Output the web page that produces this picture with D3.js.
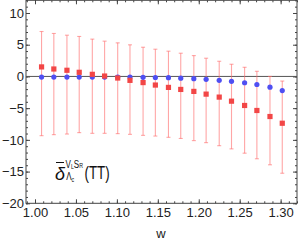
<!DOCTYPE html>
<html>
<head>
<meta charset="utf-8">
<script src="https://cdn.jsdelivr.net/npm/d3@7"></script>
<style>
  body { margin: 0; background: #fff; }
  text { font-family: "Liberation Sans", Arial, sans-serif; }
</style>
</head>
<body>
<div id="chart"></div>
<script>
// w bins (centres)
const wValues = [1.008, 1.023, 1.039, 1.054, 1.070, 1.085, 1.101, 1.116, 1.132, 1.147,
                 1.163, 1.178, 1.194, 1.209, 1.225, 1.240, 1.256, 1.271, 1.287, 1.302];

// red series: central value and error band
const redCentral = [1.50, 1.17, 0.97, 0.65, 0.33, 0.06, -0.25, -0.62, -0.97, -1.36,
                    -1.73, -2.05, -2.36, -2.79, -3.26, -3.90, -4.58, -5.37, -6.32, -7.38];
const redUpper   = [7.08, 6.77, 6.50, 6.30, 5.88, 5.56, 5.29, 4.98, 4.60, 4.29,
                    3.98, 3.66, 3.28, 2.87, 2.39, 1.92, 1.44, 0.81, 0.00, -0.73];
const redLower   = [-9.34, -9.18, -9.08, -8.86, -8.97, -8.97, -9.02, -9.13, -9.29, -9.40,
                    -9.60, -9.78, -10.12, -10.44, -10.92, -11.42, -12.10, -12.98, -13.93, -15.26];

// blue series
const blueCentral = [-0.10, -0.10, -0.10, -0.10, -0.10, -0.10, -0.10, -0.10, -0.14, -0.17,
                     -0.20, -0.27, -0.36, -0.46, -0.62, -0.78, -1.00, -1.27, -1.70, -2.23];

const xTicks = [1.00, 1.05, 1.10, 1.15, 1.20, 1.25, 1.30];
const yTicks = [-20, -15, -10, -5, 0, 5, 10];

const width = 299, height = 243;
const frameColour = "#444";

const svg = d3.select("#chart")
    .append("svg")
    .attr("width", width)
    .attr("height", height);

const x = d3.scaleLinear().domain([0.989, 1.32]).range([26, 297]);
const y = d3.scaleLinear().domain([-20, 12]).range([203.3, 0.3]);

const xMinor = d3.range(99, 133).map(d => d / 100).filter(d => d >= 0.99 && d <= 1.32);
const yMinor = d3.range(-20, 13);

// axes (ticks inward on all four sides)
function styleAxis(g){
    g.select(".domain").remove();
    g.selectAll("line").attr("stroke", frameColour);
    g.selectAll("text").attr("fill", "#222").style("font-size", "13px");
}

svg.append("g")
    .attr("transform", "translate(0," + y.range()[0] + ")")
    .call(d3.axisBottom(x).tickValues(xMinor).tickSizeInner(-2).tickSizeOuter(0).tickFormat(""))
    .call(styleAxis);
svg.append("g")
    .attr("transform", "translate(0," + y.range()[0] + ")")
    .call(d3.axisBottom(x).tickValues(xTicks).tickSizeInner(-4).tickSizeOuter(0).tickPadding(4)
        .tickFormat(d3.format(".2f")))
    .call(styleAxis);

svg.append("g")
    .attr("transform", "translate(0," + y.range()[1] + ")")
    .call(d3.axisTop(x).tickValues(xMinor).tickSizeInner(-2).tickSizeOuter(0).tickFormat(""))
    .call(styleAxis);
svg.append("g")
    .attr("transform", "translate(0," + y.range()[1] + ")")
    .call(d3.axisTop(x).tickValues(xTicks).tickSizeInner(-4).tickSizeOuter(0).tickFormat(""))
    .call(styleAxis);

svg.append("g")
    .attr("transform", "translate(" + x.range()[0] + ",0)")
    .call(d3.axisLeft(y).tickValues(yMinor).tickSizeInner(-2).tickSizeOuter(0).tickFormat(""))
    .call(styleAxis);
svg.append("g")
    .attr("transform", "translate(" + x.range()[0] + ",0)")
    .call(d3.axisLeft(y).tickValues(yTicks).tickSizeInner(-4).tickSizeOuter(0).tickPadding(2))
    .call(styleAxis);

svg.append("g")
    .attr("transform", "translate(" + x.range()[1] + ",0)")
    .call(d3.axisRight(y).tickValues(yMinor).tickSizeInner(-2).tickSizeOuter(0).tickFormat(""))
    .call(styleAxis);
svg.append("g")
    .attr("transform", "translate(" + x.range()[1] + ",0)")
    .call(d3.axisRight(y).tickValues(yTicks).tickSizeInner(-4).tickSizeOuter(0).tickFormat(""))
    .call(styleAxis);

// frame
svg.append("rect")
    .attr("x", x.range()[0])
    .attr("y", y.range()[1])
    .attr("width", x.range()[1] - x.range()[0])
    .attr("height", y.range()[0] - y.range()[1])
    .attr("fill", "none")
    .attr("stroke", frameColour)
    .attr("stroke-width", 1);

// zero line
svg.append("line")
    .attr("x1", x.range()[0]).attr("x2", x.range()[1])
    .attr("y1", y(0)).attr("y2", y(0))
    .attr("stroke", "#555")
    .attr("stroke-width", 1);

const points = wValues.map((w, i) => ({
    w: w, red: redCentral[i], hi: redUpper[i], lo: redLower[i], blue: blueCentral[i]
}));

// error bars
const bars = svg.append("g")
    .attr("stroke", "#ff6a6a")
    .attr("stroke-opacity", 0.6)
    .attr("stroke-width", 1.1);

bars.selectAll(".err")
    .data(points)
    .enter().append("line")
    .attr("class", "err")
    .attr("x1", d => x(d.w)).attr("x2", d => x(d.w))
    .attr("y1", d => y(d.hi)).attr("y2", d => y(d.lo));

bars.selectAll(".capTop")
    .data(points)
    .enter().append("line")
    .attr("class", "capTop")
    .attr("x1", d => x(d.w) - 2).attr("x2", d => x(d.w) + 2)
    .attr("y1", d => y(d.hi)).attr("y2", d => y(d.hi));

bars.selectAll(".capBot")
    .data(points)
    .enter().append("line")
    .attr("class", "capBot")
    .attr("x1", d => x(d.w) - 2).attr("x2", d => x(d.w) + 2)
    .attr("y1", d => y(d.lo)).attr("y2", d => y(d.lo));

// blue circles
svg.append("g")
    .selectAll("circle")
    .data(points)
    .enter().append("circle")
    .attr("cx", d => x(d.w))
    .attr("cy", d => y(d.blue))
    .attr("r", 2.6)
    .attr("fill", "#4f4ff2");

// red squares
svg.append("g")
    .selectAll("rect")
    .data(points)
    .enter().append("rect")
    .attr("x", d => x(d.w) - 2.6)
    .attr("y", d => y(d.red) - 2.6)
    .attr("width", 5.2)
    .attr("height", 5.2)
    .attr("fill", "#f24646");

// x title
svg.append("text")
    .attr("x", 161)
    .attr("y", 238)
    .attr("text-anchor", "middle")
    .attr("fill", "#222")
    .style("font-size", "13px")
    .text("w");

// in-plot label: overline delta ^{V_L S_R}_{Lambda_c} (TT)
const lab = svg.append("g").attr("fill", "#111");

lab.append("text")
    .attr("x", 55).attr("y", 180)
    .style("font-size", "18px")
    .style("font-style", "italic")
    .text("δ");
lab.append("line")
    .attr("x1", 56).attr("x2", 64)
    .attr("y1", 162.5).attr("y2", 162.5)
    .attr("stroke", "#111").attr("stroke-width", 1);

// superscript V_L S_R as one text with tspans
const sup = lab.append("text")
    .attr("x", 65.6).attr("y", 167.8)
    .attr("textLength", 17.4)
    .attr("lengthAdjust", "spacingAndGlyphs")
    .style("font-size", "10px");
sup.append("tspan").text("V");
sup.append("tspan").attr("dy", 0.8).style("font-size", "6.5px").text("L");
sup.append("tspan").attr("dy", -0.8).text("S");
sup.append("tspan").attr("dy", 0.4).style("font-size", "6.5px").text("R");

// subscript Lambda_c
const lam = lab.append("text")
    .attr("x", 66.2).attr("y", 180.3)
    .attr("textLength", 8)
    .attr("lengthAdjust", "spacingAndGlyphs")
    .style("font-size", "10px");
lam.append("tspan").text("Λ");
lam.append("tspan").attr("dy", 1.2).style("font-size", "6.5px").text("c");

lab.append("text")
    .attr("x", 84.5).attr("y", 178.5)
    .attr("textLength", 25.2)
    .attr("lengthAdjust", "spacingAndGlyphs")
    .style("font-size", "18px")
    .text("(TT)");
</script>
</body>
</html>
